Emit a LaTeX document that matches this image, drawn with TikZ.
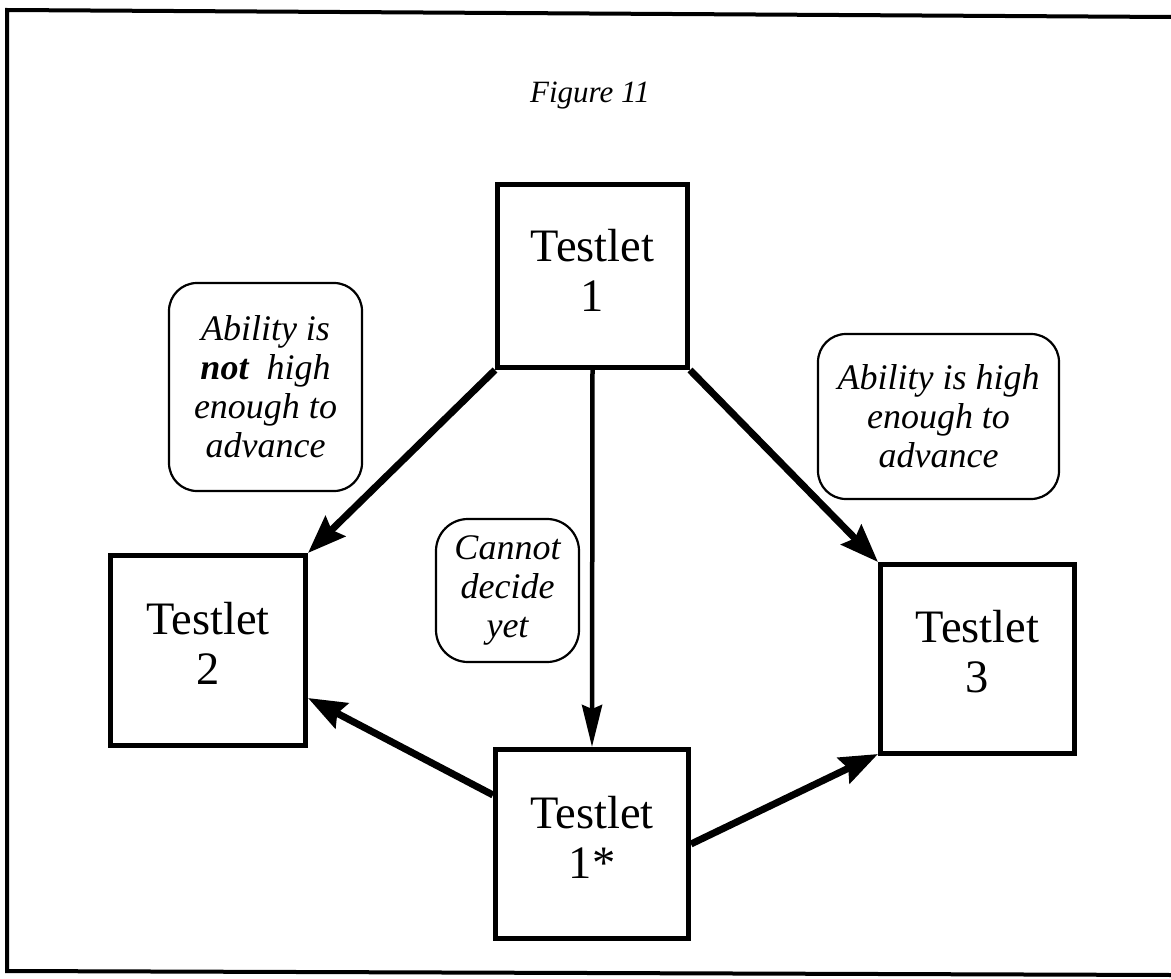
\documentclass[tikz,border=0pt]{standalone}
\usepackage{fontspec}
\setmainfont{Liberation Serif}
\usetikzlibrary{arrows.meta,calc}
\begin{document}
\begin{tikzpicture}[x=1pt,y=-1pt,
  testbox/.style={draw, line width=5pt, inner sep=0pt},
  boxtext/.style={font=\fontsize{46.5}{50}\selectfont, align=center, inner sep=0pt},
  note/.style={draw, line width=2.2pt, rounded corners=28pt, inner sep=0pt,
    font=\itshape\fontsize{36}{39}\selectfont, align=center},
  bigarrow/.style={line width=7pt, -{Stealth[length=38pt,width=28pt,inset=5pt]}},
  slimarrow/.style={line width=4.5pt, -{Stealth[length=42pt,width=20pt,inset=4pt]}},
]
\useasboundingbox (0,0) rectangle (1171,979);

% outer frame
\draw[line width=4pt, line join=miter] (1171,17) -- (7,10) -- (7,971) -- (1171,975);

% title
\node[font=\itshape\fontsize{31}{34}\selectfont, anchor=base, inner sep=0pt] (title) at (590,103) {Figure 11};

% testlet boxes
\node[testbox, minimum width=190pt, minimum height=183pt] (t1) at (592.5,276) {};
\node[testbox, minimum width=195pt, minimum height=190pt] (t2) at (208,650.5) {};
\node[testbox, minimum width=194pt, minimum height=189pt] (t3) at (977.5,659) {};
\node[testbox, minimum width=193pt, minimum height=189pt] (t1s) at (592,844) {};

\node[boxtext] (t1txt) at ([yshift=6pt]t1.center) {Testlet\\1};
\node[boxtext] (t2txt) at ([yshift=7.5pt]t2.center) {Testlet\\2};
\node[boxtext] (t3txt) at ([yshift=7.5pt]t3.center) {Testlet\\3};
\node[boxtext] (t1stxt) at ([yshift=7pt]t1s.center) {Testlet\\1*};

% decision notes
\node[note, minimum width=193pt, minimum height=208pt] (low) at (265.5,387)
  {Ability is\\\textbf{not}\ \ high\\enough to\\advance};
\node[note, minimum width=241pt, minimum height=165pt] (high) at (938.5,416.5)
  {Ability is high\\enough to\\advance};
\node[note, rounded corners=32pt, minimum width=143pt, minimum height=143pt] (undecided) at (507.5,590.5)
  {Cannot\\decide\\yet};

% routing arrows
\draw[bigarrow] (t1.south west) -- (t2.north east);
\draw[bigarrow] (t1.south east) -- (t3.north west);
\draw[slimarrow] (t1.south) -- (t1s.north);
\draw[bigarrow] ([yshift=49pt]t1s.west) -- ([yshift=-47.5pt]t2.east);
\draw[bigarrow] (t1s.east) -- ([yshift=2pt]t3.south west);
\end{tikzpicture}
\end{document}
